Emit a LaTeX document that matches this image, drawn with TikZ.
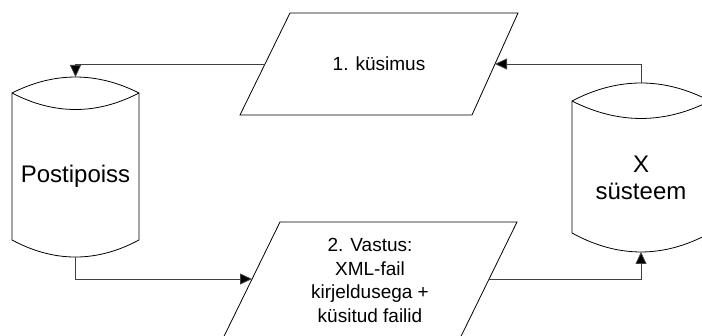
\documentclass[tikz,border=0pt]{standalone}
\usepackage{fontspec}
\setmainfont{Liberation Sans}
\usetikzlibrary{arrows.meta}
\definecolor{conn}{HTML}{404040}
\tikzset{
  shapeline/.style={draw=black, line width=0.8pt, fill=white, line join=miter},
  conline/.style={draw=conn, line width=0.8pt, -{Triangle[length=12pt,width=11pt,fill=black]}},
  bigtext/.style={inner sep=0pt, font=\fontsize{24}{26.5}\selectfont, align=center},
  smalltext/.style={inner sep=0pt, font=\fontsize{19}{23.7}\selectfont, align=center},
}
\begin{document}
\begin{tikzpicture}[x=1pt,y=-1pt]
\useasboundingbox (0,0) rectangle (702,336);
\clip (0,0) rectangle (702,336);
\fill[white] (0,0) rectangle (702,336);

% left cylinder (Postipoiss)
\draw[shapeline] (12,93) .. controls (54.3,71.7) and (96.7,71.7) .. (139,93)
  -- (139,240) .. controls (96.7,262.7) and (54.3,262.7) .. (12,240) -- cycle;
\draw[shapeline, fill=none] (12,93) .. controls (54.3,115) and (96.7,115) .. (139,93);
\coordinate (posttop) at (75.5,77);
\coordinate (postbot) at (75.5,257);
\node[bigtext, anchor=base] (post) at (75.5,182.7) {Postipoiss};

% right cylinder (X süsteem)
\draw[shapeline] (572,101) .. controls (618,77) and (664,77) .. (710,101)
  -- (710,233) .. controls (664,258.3) and (618,258.3) .. (572,233) -- cycle;
\draw[shapeline, fill=none] (572,101) .. controls (618,124.3) and (664,124.3) .. (710,101);
\coordinate (xtop) at (641,83);
\coordinate (xbot) at (641,252);
\node[bigtext, anchor=north] (xsys) at (641,156) {X\\süsteem};

% parallelogram 1
\draw[shapeline] (290,13) -- (518,13) -- (472,115) -- (240,115) -- cycle;
\coordinate (p1w) at (265,64);
\coordinate (p1e) at (495,64);
\node[smalltext, anchor=base] (q) at (379,70.7) {1. küsimus};

% parallelogram 2
\draw[shapeline] (280,222) -- (517,222) -- (455.3,348) -- (218.3,348) -- cycle;
\coordinate (p2w) at (252,279);
\coordinate (p2e) at (489,279);
\node[smalltext, anchor=north] (ans) at (370,238) {2. Vastus:\\XML-fail\\kirjeldusega +\\küsitud failid};

% connectors
\draw[conline] (xtop) |- (p1e);
\draw[conline] (p1w) -| (posttop);
\draw[conline] (postbot) |- (p2w);
\draw[conline] (p2e) -| (xbot);
\end{tikzpicture}
\end{document}
